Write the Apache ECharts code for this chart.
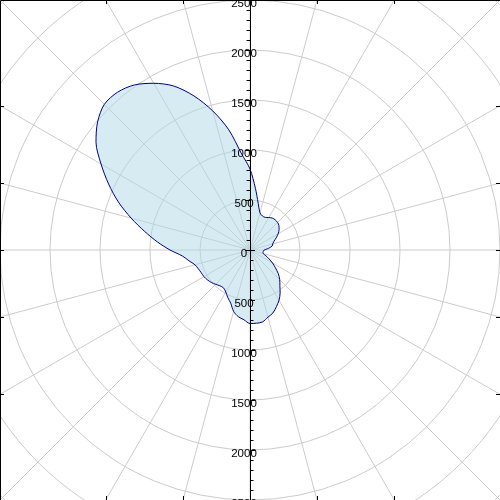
<!DOCTYPE html>
<html>
<head>
<meta charset="utf-8">
<script src="https://cdn.jsdelivr.net/npm/echarts@6/dist/echarts.min.js"></script>
<style>
html,body{margin:0;padding:0;background:#fff;}
#chart{width:500px;height:500px;}
</style>
</head>
<body>
<div id="chart"></div>
<script>
// Polar pattern: angle in degrees (0 = east, counter-clockwise), radius in data units
const angles = [0,5,10,15,20,25,30,35,40,45,50,55,60,65,70,75,80,85,90,95,100,105,110,115,120,125,130,135,140,145,150,155,160,165,170,175,180,185,190,195,200,205,210,215,220,225,230,235,240,245,250,255,260,265,270,275,280,285,290,295,300,305,310,315,320,325,330,335,340,345,350,355,360];
const radii = [140,185,225,235,255,290,325,355,378,390,393,390,375,360,362,385,474,620,810,965,1220,1440,1640,1810,1925,2015,2060,2060,1990,1880,1720,1560,1400,1230,1070,930,800,680,620,570,550,538,532,520,505,485,468,462,485,525,565,635,677,700,735,735,730,695,670,625,580,525,465,420,370,310,260,210,170,137,132,135,140];
const radiusTicks = [0,500,1000,1500,2000,2500];
const radiusMax = 3600;
const gridStep = 500;
const angleStep = 15;

const chart = echarts.init(document.getElementById('chart'));
const W = 500, H = 500, CX = 250, CY = 250, R = 360;

// frame ticks where the angular grid lines meet the square frame
const frameTicks = [];
for (let a = 0; a < 360; a += angleStep) {
  const t = a * Math.PI / 180;
  const dx = Math.cos(t), dy = -Math.sin(t);
  const sx = Math.abs(dx) > 1e-9 ? (dx > 0 ? (W - CX) / dx : -CX / dx) : Infinity;
  const sy = Math.abs(dy) > 1e-9 ? (dy > 0 ? (H - CY) / dy : -CY / dy) : Infinity;
  const s = Math.min(sx, sy);
  const px = CX + dx * s, py = CY + dy * s;
  const L = 4;
  if (Math.abs(sx - sy) < 0.5) continue; // corner
  if (sx < sy) {
    const x0 = dx > 0 ? W : 0, x1 = dx > 0 ? W - L : L;
    frameTicks.push({type:'line', silent:true, shape:{x1:x0, y1:Math.round(py)+0.5, x2:x1, y2:Math.round(py)+0.5}, style:{stroke:'#000', lineWidth:1}});
  } else {
    const y0 = dy > 0 ? H : 0, y1 = dy > 0 ? H - L : L;
    if (Math.abs(px - CX) < 1) continue;
    frameTicks.push({type:'line', silent:true, shape:{x1:Math.round(px)+0.5, y1:y0, x2:Math.round(px)+0.5, y2:y1}, style:{stroke:'#000', lineWidth:1}});
  }
}

const labelFmt = v => (radiusTicks.indexOf(v) >= 0 ? String(v) : '');
const labelFmtDown = v => (v > 0 && radiusTicks.indexOf(v) >= 0 ? String(v) : '');

const minorTickStyle = {show: true, splitNumber: 5, length: 3.5, lineStyle: {color: '#000', width: 1}};
const labelStyle = {show: true, color: '#000', fontFamily: 'Liberation Sans', fontSize: 11.5,
  align: 'center', verticalAlign: 'top', lineHeight: 8};

const option = {
  animation: false,
  backgroundColor: '#fff',
  polar: [
    {center: [CX, CY], radius: R},
    {center: [CX, CY], radius: R},
    {center: [CX, CY], radius: R}
  ],
  angleAxis: [
    {polarIndex: 0, type: 'value', min: 0, max: 360, interval: angleStep, startAngle: 0, clockwise: false,
     axisLine: {show: false}, axisTick: {show: false}, axisLabel: {show: false},
     splitLine: {show: true, lineStyle: {color: '#cccccc', width: 1}}},
    {polarIndex: 1, type: 'value', min: 0, max: 360, startAngle: 90, clockwise: false, show: false,
     axisLine: {show: false}, axisTick: {show: false}, axisLabel: {show: false}, splitLine: {show: false}},
    {polarIndex: 2, type: 'value', min: 0, max: 360, startAngle: 270, clockwise: false, show: false,
     axisLine: {show: false}, axisTick: {show: false}, axisLabel: {show: false}, splitLine: {show: false}}
  ],
  radiusAxis: [
    {polarIndex: 0, type: 'value', min: 0, max: radiusMax, interval: gridStep,
     axisLine: {show: false}, axisTick: {show: false}, axisLabel: {show: false},
     splitLine: {show: true, lineStyle: {color: '#cccccc', width: 1}}},
    {polarIndex: 1, type: 'value', min: 0, max: radiusMax, interval: gridStep, z: 5,
     axisLine: {show: true, lineStyle: {color: '#000', width: 1}},
     axisTick: {show: true, inside: true, length: 5, lineStyle: {color: '#000', width: 1}},
     minorTick: minorTickStyle,
     splitLine: {show: false},
     axisLabel: Object.assign({formatter: labelFmt, margin: 6}, labelStyle)},
    {polarIndex: 2, type: 'value', min: 0, max: radiusMax, interval: gridStep, z: 5,
     axisLine: {show: true, lineStyle: {color: '#000', width: 1}},
     axisTick: {show: true, length: 5, lineStyle: {color: '#000', width: 1}},
     minorTick: minorTickStyle,
     splitLine: {show: false},
     axisLabel: Object.assign({formatter: labelFmtDown, margin: -6}, labelStyle)}
  ],
  series: [{
    type: 'line', coordinateSystem: 'polar', polarIndex: 0,
    data: angles.map((a, i) => [radii[i], a]),
    smooth: 0.3, showSymbol: false, symbol: 'none',
    lineStyle: {color: '#00008b', width: 1},
    areaStyle: {color: 'rgba(173,216,230,0.5)', opacity: 1},
    z: 2
  }],
  graphic: [
    {type: 'rect', silent: true, z: 100, shape: {x: 0.5, y: 0.5, width: 500, height: 500},
     style: {fill: null, stroke: '#000', lineWidth: 1}}
  ].concat(frameTicks.map(t => Object.assign(t, {z: 100})))
};
chart.setOption(option);
</script>
</body>
</html>
